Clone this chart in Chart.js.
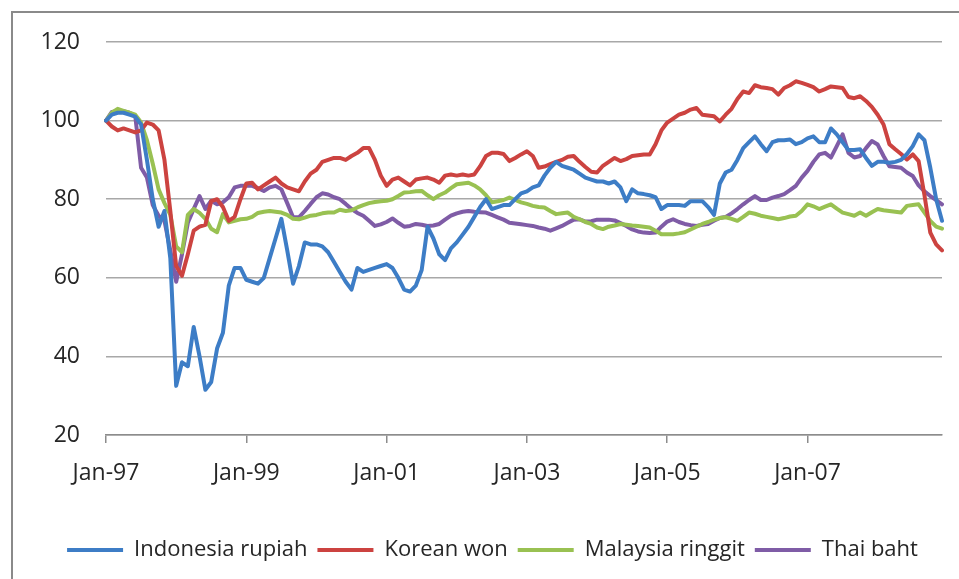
<!DOCTYPE html>
<html>
<head>
<meta charset="utf-8">
<script src="https://cdn.jsdelivr.net/npm/chart.js@4.4.1/dist/chart.umd.min.js"></script>
<style>
  html, body { margin: 0; padding: 0; background: #fff; }
  #wrap { position: relative; width: 959px; height: 579px; }
</style>
</head>
<body>
<div id="wrap"><canvas id="fxChart"></canvas></div>
<script>
// monthly index, Jan-97 = 100 (Jan-97 .. Dec-08)
const startYear = 1997
const endYear = 2008
const monthNames = ["Jan", "Feb", "Mar", "Apr", "May", "Jun", "Jul", "Aug", "Sep", "Oct", "Nov", "Dec"]

const indonesia = [
  100, 101.5, 102, 102, 101.5, 101, 99, 90, 80, 73, 77, 65,
  32.5, 38.5, 37.5, 47.5, 40, 31.5, 33.5, 42, 46, 58, 62.5, 62.5,
  59.5, 59, 58.5, 60, 65, 70, 75, 67, 58.5, 63, 69, 68.5,
  68.5, 68, 66.5, 64, 61.5, 59, 57, 62.5, 61.5, 62, 62.5, 63,
  63.5, 62.5, 60, 57, 56.5, 58, 62, 73, 70, 66, 64.5, 67.5,
  69, 71, 73, 75.5, 78, 80, 77.5, 78, 78.5, 78.5, 80, 81.5,
  82, 83, 83.5, 86, 88, 89.5, 88.5, 88, 87.5, 86.5, 85.5, 85,
  84.5, 84.5, 84, 84.5, 83, 79.5, 82.5, 81.5, 81.3, 81, 80.5, 77.5,
  78.5, 78.5, 78.5, 78.3, 79.5, 79.5, 79.5, 78, 76, 84, 86.8, 87.5,
  90, 93, 94.5, 96, 94, 92.2, 94.5, 95, 95, 95.2, 94, 94.5,
  95.5, 96, 94.5, 94.5, 98, 96.5, 94.5, 92.5, 92.5, 92.7, 90.5, 88.5,
  89.5, 89.5, 89.3, 89.5, 90, 91.5, 93.5, 96.5, 95, 88, 80, 74.5
]

const korea = [
  100, 98.5, 97.5, 98, 97.5, 97, 97.5, 99.5, 99, 97.5, 90, 77,
  63, 60.5, 66, 72, 73, 73.5, 79.5, 80, 78, 74.5, 75.5, 80,
  84, 84.2, 82.5, 83.5, 84.5, 85.5, 84, 83, 82.5, 82, 84.5, 86.5,
  87.5, 89.5, 90, 90.5, 90.5, 90, 91, 91.8, 93, 93, 90, 86,
  83.4, 85, 85.5, 84.5, 83.5, 85, 85.3, 85.5, 85, 84.2, 86, 86.3,
  86, 86.3, 86, 86.3, 88.4, 91, 91.8, 91.8, 91.5, 89.7, 90.5, 91.4,
  92.2, 91, 88, 88.3, 88.9, 89.5, 90, 90.8, 91, 89.5, 88.2, 87,
  86.8, 88.5, 89.5, 90.5, 89.7, 90.2, 91, 91.2, 91.4, 91.4, 94, 97.5,
  99.5, 100.5, 101.5, 102, 102.8, 103.2, 101.5, 101.3, 101.1, 99.8, 101.5, 103,
  105.5, 107.4, 107, 109, 108.5, 108.3, 108, 106.6, 108.3, 109, 110, 109.6,
  109.1, 108.5, 107.4, 108, 108.7, 108.5, 108.3, 106, 105.7, 106.2, 105, 103.5,
  101.5, 99, 94, 92.7, 91.5, 90.1, 91.4, 89.7, 81, 71.5, 68.5, 67
]

const malaysia = [
  100, 102, 103, 102.5, 102, 101.5, 99.5, 95, 89, 82.5, 79, 76,
  68, 66.5, 76, 77.5, 76.5, 75, 72.5, 71.6, 76.2, 74.1, 74.5, 74.9,
  75, 75.5, 76.5, 76.8, 77, 76.8, 76.6, 76, 75, 74.9, 75.3, 75.8,
  76, 76.4, 76.6, 76.6, 77.3, 77, 77.2, 77.9, 78.5, 79, 79.3, 79.5,
  79.6, 80, 80.8, 81.7, 81.8, 82, 82.1, 81, 80, 81, 81.7, 82.8,
  83.8, 84, 84.2, 83.5, 82.5, 81, 79.2, 79.5, 79.8, 80.4, 79.8, 79.2,
  78.8, 78.3, 78, 77.9, 77, 76.2, 76.4, 76.6, 75.5, 74.9, 74.2, 73.7,
  72.8, 72.4, 73, 73.3, 73.7, 73.5, 73.3, 73.2, 73, 72.8, 72, 71.1,
  71.1, 71.1, 71.3, 71.6, 72.3, 73, 73.7, 74.2, 74.8, 75.2, 75.4, 75,
  74.5, 75.5, 76.6, 76.3, 75.8, 75.5, 75.2, 74.9, 75.2, 75.6, 75.8, 77,
  78.7, 78.2, 77.5, 78.1, 78.7, 77.6, 76.6, 76.2, 75.8, 76.6, 75.8, 76.7,
  77.5, 77.2, 77, 76.8, 76.6, 78.3, 78.5, 78.7, 76.6, 74.5, 73, 72.5
]

const thailand = [
  100, 102.2, 102.4, 102.4, 102, 101.2, 88, 85.5, 78.5, 75.8, 74.5, 67,
  59, 66, 74, 77.5, 80.8, 77.5, 79.6, 78.7, 79.2, 80.5, 83, 83.4,
  83.4, 83.4, 82.8, 82.1, 83, 83.4, 82.5, 79, 75.4, 75.4, 77, 78.8,
  80.5, 81.5, 81.2, 80.5, 80, 78.8, 77.5, 76.5, 75.8, 74.5, 73.2, 73.6,
  74.2, 75.1, 74, 73, 73.2, 73.7, 73.5, 73.2, 73.3, 73.7, 74.8, 75.8,
  76.4, 76.8, 77, 76.8, 76.7, 76.6, 76, 75.4, 74.8, 74, 73.8, 73.6,
  73.4, 73.2, 72.8, 72.5, 72, 72.6, 73.2, 74, 74.8, 74.9, 74.3, 74.4,
  74.8, 74.8, 74.8, 74.6, 73.9, 73.2, 72.3, 71.8, 71.5, 71.4, 71.5, 73,
  74.3, 74.9, 74.2, 73.7, 73.4, 73.2, 73.5, 73.7, 74.5, 75.2, 75.5, 76.4,
  77.5, 78.7, 79.8, 80.8, 79.8, 79.8, 80.4, 80.8, 81.3, 82.3, 83.4, 85.5,
  87.2, 89.5, 91.4, 91.8, 90.6, 93.5, 96.5, 91.8, 90.6, 91, 93, 94.8,
  93.9, 91, 88.4, 88.2, 88, 86.8, 85.9, 83.5, 82, 80.8, 79.8, 78.7
]

const seriesNames = ["Indonesia rupiah", "Korean won", "Malaysia ringgit", "Thai baht"]
const seriesColors = ["#3d7dc6", "#cc4340", "#99c152", "#7f5ca6"]

let months = []
for (let y = startYear; y <= endYear; y++) {
    monthNames.forEach(m => {
        months.push(m + "-" + String(y).slice(2))
    })
}

const fontFamily = "'Open Sans', sans-serif"
const axisGray = "#8c8c8c"

// white background + grey frame of the original picture
const framePlugin = {
    id: "frame",
    beforeDraw(chart) {
        const ctx = chart.ctx
        ctx.save()
        ctx.fillStyle = "#fff"
        ctx.fillRect(0, 0, chart.width, chart.height)
        ctx.strokeStyle = "#8a8a8a"
        ctx.lineWidth = 2
        ctx.beginPath()
        ctx.moveTo(12, chart.height + 5)
        ctx.lineTo(12, 12)
        ctx.lineTo(chart.width + 5, 12)
        ctx.stroke()
        ctx.restore()
    }
}

const allSeries = [indonesia, korea, malaysia, thailand]

const fxChart = new Chart("fxChart", {
    type: "line",
    data: {
        labels: months,
        datasets: allSeries.map((vals, i) => ({
            label: seriesNames[i],
            data: vals,
            borderColor: seriesColors[i],
            backgroundColor: seriesColors[i],
            borderWidth: 4,
            pointRadius: 0,
            tension: 0,
            borderJoinStyle: "round",
            borderCapStyle: "round",
        }))
    },
    options: {
        responsive: true,
        maintainAspectRatio: false,
        animation: false,
        layout: {
            padding: { left: 42, right: 16, top: 42, bottom: 8 }
        },
        plugins: {
            tooltip: { enabled: false },
            legend: {
                position: "bottom",
                labels: {
                    usePointStyle: true,
                    pointStyle: "line",
                    pointStyleWidth: 56,
                    padding: 10,
                    color: "#262626",
                    font: { family: fontFamily, size: 22 }
                }
            }
        },
        scales: {
            x: {
                offset: false,
                border: { color: axisGray, width: 1.5 },
                grid: {
                    drawOnChartArea: false,
                    drawTicks: true,
                    tickLength: 8,
                    lineWidth: 1.5,
                    color: ctx => (ctx.index % 24 === 0 ? axisGray : "rgba(0,0,0,0)")
                },
                ticks: {
                    autoSkip: false,
                    maxRotation: 0,
                    minRotation: 0,
                    padding: 17,
                    color: "#262626",
                    font: { family: fontFamily, size: 23 },
                    callback: function(value, index) {
                        return index % 24 === 0 ? this.getLabelForValue(value) : ""
                    }
                },
                afterFit: scale => { scale.height = 94 }
            },
            y: {
                min: 20,
                max: 120,
                border: { display: false },
                grid: {
                    color: "#a8a8a8",
                    lineWidth: 1.5,
                    drawTicks: false
                },
                ticks: {
                    stepSize: 20,
                    padding: 26,
                    color: "#262626",
                    font: { family: fontFamily, size: 23 }
                },
                afterFit: scale => { scale.width = 64 }
            }
        }
    },
    plugins: [framePlugin]
})
</script>
</body>
</html>
